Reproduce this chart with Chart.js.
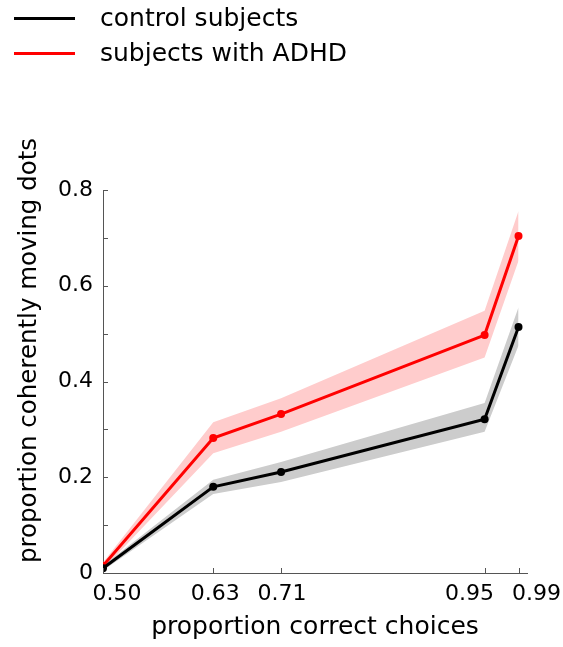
<!DOCTYPE html>
<html>
<head>
<meta charset="utf-8">
<script src="https://cdn.jsdelivr.net/npm/chart.js@4"></script>
<style>
  body { margin: 0; background: #fff; }
  #wrap { position: relative; width: 563px; height: 647px; }
  .leg { position: absolute; left: 0; font-family: "DejaVu Sans", sans-serif; font-size: 25px; line-height: 30px; color: #000; }
  .leg span.sw { position: absolute; left: 14px; width: 61px; height: 3px; top: 14px; }
  .leg span.tx { position: absolute; left: 100px; top: 0; white-space: nowrap; }
</style>
</head>
<body>
<div id="wrap">
  <canvas id="chart" width="563" height="647"></canvas>
  <div class="leg" style="top:3px"><span class="sw" style="background:#000"></span><span class="tx">control subjects</span></div>
  <div class="leg" style="top:38px"><span class="sw" style="background:#ff0000"></span><span class="tx">subjects with ADHD</span></div>
</div>
<script>
// proportion correct choices
var xValues = [0.50, 0.63, 0.71, 0.95, 0.99];
var xTicks = [0.50, 0.63, 0.71, 0.95, 0.99];
var yTicks = [0, 0.1, 0.2, 0.3, 0.4, 0.5, 0.6, 0.7, 0.8];

// control subjects
var controlMean  = [0.010, 0.180, 0.211, 0.321, 0.514];
var controlLower = [0.005, 0.165, 0.190, 0.295, 0.475];
var controlUpper = [0.015, 0.195, 0.232, 0.355, 0.555];

// subjects with ADHD
var adhdMean  = [0.015, 0.282, 0.332, 0.497, 0.704];
var adhdLower = [0.008, 0.250, 0.295, 0.450, 0.652];
var adhdUpper = [0.022, 0.315, 0.365, 0.548, 0.756];

// x labels are nudged sideways in the figure so they don't collide
var xLabelShift = [14, 2, 1, -15, 18];

function pts(ys) {
  return xValues.map(function(x, i) { return {x: x, y: ys[i]}; });
}

var fontFamily = '"DejaVu Sans", sans-serif';

function band(lower, upper, color) {
  return [
    { data: pts(lower), borderWidth: 0, pointRadius: 0, fill: false, order: 2 },
    { data: pts(upper), borderWidth: 0, pointRadius: 0, fill: '-1', backgroundColor: color, order: 2 }
  ];
}

function line(ys, color) {
  return {
    data: pts(ys), borderColor: color, backgroundColor: color, borderWidth: 3,
    pointRadius: 4, pointHoverRadius: 4, pointBackgroundColor: color, pointBorderWidth: 0,
    fill: false, order: 0
  };
}

// short tick marks pointing into the plot, x labels, and the y title
var axisExtras = {
  id: 'axisExtras',
  afterDraw: function(chart) {
    var ctx = chart.ctx, xs = chart.scales.x, ys = chart.scales.y;
    ctx.save();
    ctx.strokeStyle = '#555';
    ctx.lineWidth = 1;
    ctx.beginPath();
    xs.ticks.forEach(function(t) {
      var px = Math.round(xs.getPixelForValue(t.value)) + 0.5;
      ctx.moveTo(px, xs.top);
      ctx.lineTo(px, xs.top - 5);
    });
    ys.ticks.forEach(function(t) {
      var py = Math.round(ys.getPixelForValue(t.value)) + 0.5;
      ctx.moveTo(ys.right, py);
      ctx.lineTo(ys.right + 5, py);
    });
    ctx.stroke();

    ctx.fillStyle = '#000';
    ctx.font = '22px ' + fontFamily;
    ctx.textAlign = 'center';
    ctx.textBaseline = 'middle';
    xs.ticks.forEach(function(t, i) {
      ctx.fillText(t.value.toFixed(2), xs.getPixelForValue(t.value) + xLabelShift[i], xs.top + 21);
    });

    ctx.font = '24.5px ' + fontFamily;
    ctx.translate(30, (chart.chartArea.top + chart.chartArea.bottom) / 2 - 31);
    ctx.rotate(-Math.PI / 2);
    ctx.fillText('proportion coherently moving dots', 0, 0);
    ctx.restore();
  }
};

var ctx = document.getElementById('chart').getContext('2d');
var chart = new Chart(ctx, {
  type: 'line',
  data: {
    datasets: []
      .concat(band(controlLower, controlUpper, '#cccccc'))
      .concat(band(adhdLower, adhdUpper, '#ffcccc'))
      .concat([line(controlMean, '#000000'), line(adhdMean, '#ff0000')])
  },
  options: {
    responsive: false,
    animation: false,
    layout: { padding: { top: 190, right: 36, left: 0, bottom: 0 } },
    plugins: { legend: { display: false }, tooltip: { enabled: false } },
    scales: {
      x: {
        type: 'linear', min: 0.5, max: 1.0,
        afterBuildTicks: function(scale) {
          scale.ticks = xTicks.map(function(v) { return {value: v}; });
        },
        afterFit: function(scale) { scale.height = 74; },
        grid: { display: false, drawTicks: false },
        border: { display: true, color: '#555', width: 1 },
        ticks: { display: false },
        title: {
          display: true, text: 'proportion correct choices', color: '#000',
          font: { family: fontFamily, size: 25 }, padding: { top: 0, bottom: 5 }
        }
      },
      y: {
        min: 0, max: 0.8,
        afterBuildTicks: function(scale) {
          scale.ticks = yTicks.map(function(v) { return {value: v}; });
        },
        afterFit: function(scale) { scale.width = 103; },
        grid: { display: false, drawTicks: false },
        border: { display: true, color: '#555', width: 1 },
        ticks: {
          padding: 10, color: '#000', autoSkip: false,
          font: { family: fontFamily, size: 22 },
          callback: function(v) {
            var k = Math.round(v * 10);
            if (k % 2 !== 0) return '';
            return k === 0 ? '0' : (k / 10).toFixed(1);
          }
        }
      }
    }
  },
  plugins: [axisExtras]
});
</script>
</body>
</html>
